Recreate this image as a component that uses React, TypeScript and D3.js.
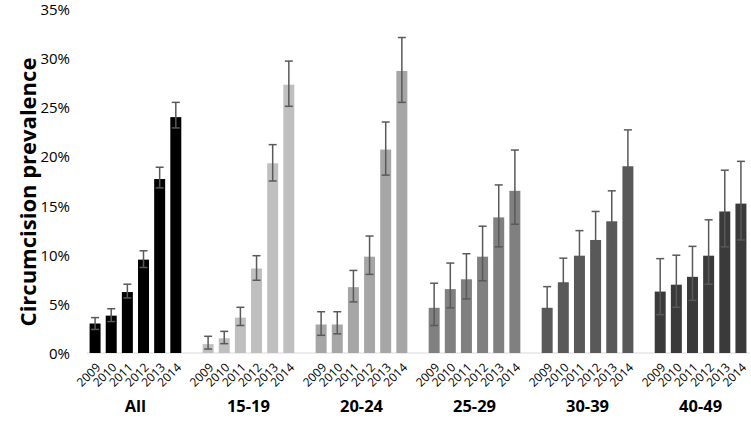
import * as d3 from "d3";

const years = ["2009", "2010", "2011", "2012", "2013", "2014"];
const groups = ["All", "15-19", "20-24", "25-29", "30-39", "40-49"];
const yTicks = [0, 5, 10, 15, 20, 25, 30, 35];

// prevalence (%) per group, then lower / upper error bounds
const valAll = [3.0, 3.8, 6.2, 9.5, 17.7, 24.0];
const lowAll = [2.4, 3.2, 5.6, 8.7, 16.8, 22.9];
const highAll = [3.6, 4.5, 7.0, 10.4, 18.9, 25.5];

const val1519 = [0.9, 1.5, 3.6, 8.6, 19.3, 27.3];
const low1519 = [0.4, 0.95, 2.8, 7.4, 17.5, 25.1];
const high1519 = [1.7, 2.2, 4.65, 9.9, 21.2, 29.7];

const val2024 = [2.9, 2.9, 6.7, 9.8, 20.7, 28.7];
const low2024 = [1.8, 1.95, 5.2, 8.0, 18.1, 25.5];
const high2024 = [4.2, 4.2, 8.4, 11.9, 23.5, 32.1];

const val2529 = [4.6, 6.5, 7.5, 9.8, 13.8, 16.5];
const low2529 = [2.8, 4.6, 5.5, 7.35, 10.8, 13.1];
const high2529 = [7.1, 9.15, 10.1, 12.9, 17.1, 20.65];

const val3039 = [4.6, 7.2, 9.9, 11.5, 13.4, 19.0];
const low3039 = [2.4, 4.7, 7.3, 8.6, 10.3, 15.3];
const high3039 = [6.75, 9.65, 12.45, 14.4, 16.5, 22.7];

const val4049 = [6.25, 6.95, 7.75, 9.9, 14.4, 15.2];
const low4049 = [3.9, 4.65, 5.35, 7.0, 10.8, 11.5];
const high4049 = [9.6, 9.95, 10.85, 13.55, 18.6, 19.5];

const groupColors = ["#000000", "#bfbfbf", "#a6a6a6", "#808080", "#595959", "#3a3a3a"];

const series = [
  { v: valAll, lo: lowAll, hi: highAll },
  { v: val1519, lo: low1519, hi: high1519 },
  { v: val2024, lo: low2024, hi: high2024 },
  { v: val2529, lo: low2529, hi: high2529 },
  { v: val3039, lo: low3039, hi: high3039 },
  { v: val4049, lo: low4049, hi: high4049 },
];

export default function App() {
  const width = 751;
  const height = 433;
  const left = 87;
  const right = 749;
  const baseY = 353;
  const font = "'Open Sans', sans-serif";

  const groupScale = d3.scaleBand().domain(groups).range([left, right]).paddingInner(1 / 7).paddingOuter(0);
  const yearScale = d3
    .scaleBand()
    .domain(years)
    .range([0, groupScale.bandwidth()])
    .paddingInner(0.32)
    .paddingOuter(0.16);
  const y = d3.scaleLinear().domain([0, 35]).range([baseY, 9]);
  const bw = yearScale.bandwidth();
  const capW = 8;

  return (
    <svg
      width={width}
      height={height}
      style={{ position: "absolute", left: 0, top: 0, background: "#fff" }}
      fontFamily={font}
    >
      {/* y axis title */}
      <text
        transform={`translate(27, 192) rotate(-90)`}
        textAnchor="middle"
        dominantBaseline="central"
        fontSize="22"
        fontWeight="bold"
        fill="#000"
      >
        Circumcision prevalence
      </text>
      {yTicks.map((t) => (
        <text
          key={t}
          x={70}
          y={y(t)}
          textAnchor="end"
          dominantBaseline="central"
          fontSize="15"
          fill="#000"
        >
          {t}%
        </text>
      ))}
      <line x1={left} x2={right} y1={baseY} y2={baseY} stroke="#d9d9d9" strokeWidth="1" />

      {groups.map((g, gi) => {
        const gx = groupScale(g) as number;
        const s = series[gi];
        return (
          <g key={g}>
            {years.map((yr, i) => {
              const x = gx + (yearScale(yr) as number);
              const cx = x + bw / 2;
              return (
                <g key={yr}>
                  <rect
                    x={x}
                    y={y(s.v[i])}
                    width={bw}
                    height={baseY - y(s.v[i])}
                    fill={groupColors[gi]}
                  />
                  <g stroke="#595959" strokeWidth="1.5">
                    <line x1={cx} x2={cx} y1={y(s.lo[i])} y2={y(s.hi[i])} />
                    <line x1={cx - capW / 2} x2={cx + capW / 2} y1={y(s.hi[i])} y2={y(s.hi[i])} />
                    <line x1={cx - capW / 2} x2={cx + capW / 2} y1={y(s.lo[i])} y2={y(s.lo[i])} />
                  </g>
                  <text
                    transform={`translate(${cx + 3}, ${baseY + 12}) rotate(-45)`}
                    textAnchor="end"
                    dominantBaseline="central"
                    fontSize="12"
                    fill="#000"
                  >
                    {yr}
                  </text>
                </g>
              );
            })}
            <text
              x={gx + groupScale.bandwidth() / 2}
              y={405}
              textAnchor="middle"
              dominantBaseline="central"
              fontSize="16.5"
              fontWeight="bold"
              fill="#000"
            >
              {g}
            </text>
          </g>
        );
      })}
    </svg>
  );
}
